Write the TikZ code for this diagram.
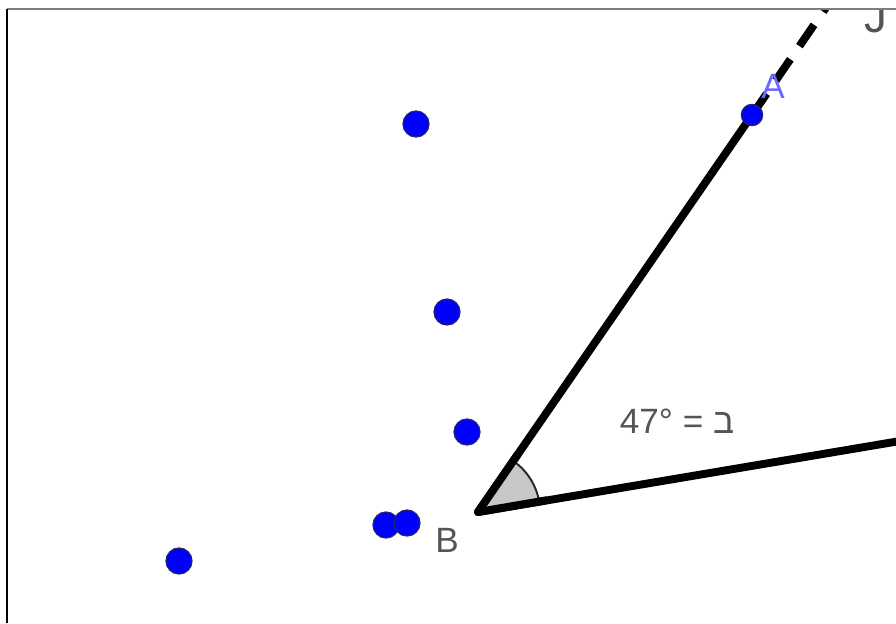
\documentclass[tikz,border=0pt]{standalone}
\usepackage{fontspec}
\setmainfont{Liberation Sans}
\newfontfamily\hebfont[Script=Hebrew]{Liberation Sans}
\TeXXeTstate=1
\usetikzlibrary{positioning}
\definecolor{ptblue}{RGB}{0,0,255}
\definecolor{ptedge}{RGB}{35,35,110}
\definecolor{lblgray}{RGB}{85,85,85}
\definecolor{lblblue}{RGB}{105,105,255}
\definecolor{angfill}{RGB}{200,200,200}
\definecolor{framegray}{RGB}{125,125,125}
\tikzset{
  dot/.style={circle, fill=ptblue, draw=ptedge, line width=0.7pt,
    minimum size=0.52cm, inner sep=0pt},
  smalldot/.style={dot, minimum size=0.42cm},
  ray/.style={line width=4.5pt, color=black},
  dashray/.style={ray, dash pattern=on 14.7pt off 9.1pt},
  angmark/.style={fill=angfill, draw=black!85, line width=1.1pt},
  lbl/.style={font=\fontsize{20}{20}\selectfont, text=lblgray, inner sep=0pt},
  ablbl/.style={lbl, text=lblblue}
}

\begin{document}
\begin{tikzpicture}[x=0.02cm, y=-0.02cm]
  \useasboundingbox (0,0) rectangle (896,623);
  \begin{scope}
    \clip (7,9) rectangle (896,623);
    % Vertex and ray ends
    \coordinate (B) at (478,512);
    \coordinate (C) at (838,-10);
    \coordinate (E) at (900,441);
    \node[smalldot] (A) at (752,115) {};
    % Rays
    \draw[ray, line cap=round] (B) -- (A.center);
    \draw[dashray] (A.center) -- (C);
    \draw[ray, line cap=round] (B) -- (E);
    % Angle mark
    \draw[angmark] (B) -- ++(-55.4:62) arc[start angle=-55.4, end angle=-9.7, radius=62] -- cycle;
    \draw[ray, line cap=round] (B) -- ++(-55.4:70);
    \draw[ray] (B) -- ++(-9.7:70);
    \node[smalldot] at (A) {};
    % Free points
    \node[dot] (p1) at (416,124) {};
    \node[dot] (p2) at (447,312) {};
    \node[dot] (p3) at (467,432) {};
    \node[dot] (p4) at (386,525) {};
    \node[dot] (p5) at (407,523) {};
    \node[dot] (p6) at (179,561) {};
    % Labels
    \node[ablbl] (Alab) at (773,86) {A};
    \node[lbl] (Blab) at (447,540) {B};
    \node[lbl, font=\fontsize{26}{26}\selectfont, anchor=south] (Jlab) at (876,33.5) {J};
    \node[lbl] (ang) at (677,421) {\hebfont\beginR ב = \beginL 47°\endL\endR};
  \end{scope}
  % Frame
  \draw[framegray, line width=1.1pt] (7,9) -- (896,9);
  \draw[black, line width=1.1pt] (7,9) -- (7,623);
\end{tikzpicture}
\end{document}
